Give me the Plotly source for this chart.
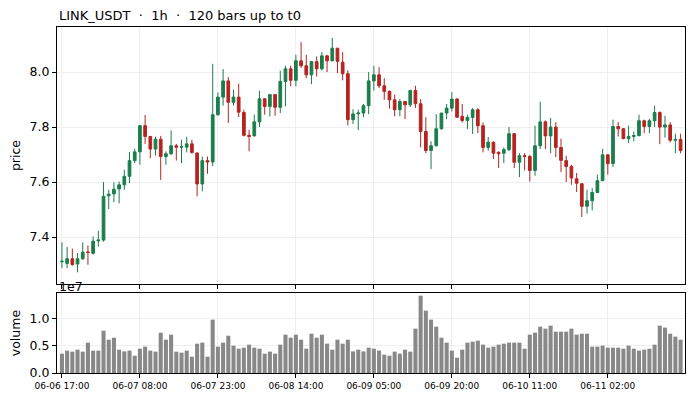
import numpy as np
import pandas as pd
import plotly.graph_objects as go

# 120 hourly bars
start = "2024-06-06 17:00"
n_bars = 120

opens = [7.310, 7.304, 7.321, 7.302, 7.321, 7.346, 7.341, 7.386, 7.389, 7.550,
         7.557, 7.575, 7.590, 7.621, 7.678, 7.710, 7.805, 7.766, 7.720, 7.756,
         7.693, 7.703, 7.732, 7.727, 7.727, 7.739, 7.706, 7.593, 7.678, 7.673,
         7.845, 7.909, 7.968, 7.890, 7.909, 7.853, 7.770, 7.768, 7.819, 7.903,
         7.875, 7.918, 7.872, 7.966, 8.012, 7.970, 8.041, 8.023, 7.990, 8.038,
         8.012, 8.059, 8.041, 8.087, 8.036, 7.994, 7.827, 7.848, 7.851, 7.878,
         7.968, 7.990, 7.950, 7.930, 7.899, 7.863, 7.893, 7.881, 7.933, 7.885,
         7.784, 7.715, 7.732, 7.794, 7.851, 7.869, 7.902, 7.839, 7.824, 7.835,
         7.863, 7.805, 7.726, 7.745, 7.708, 7.705, 7.718, 7.776, 7.672, 7.696,
         7.693, 7.642, 7.732, 7.819, 7.768, 7.800, 7.726, 7.678, 7.657, 7.612,
         7.594, 7.512, 7.532, 7.562, 7.605, 7.699, 7.667, 7.802, 7.794, 7.758,
         7.766, 7.769, 7.823, 7.802, 7.823, 7.853, 7.800, 7.808, 7.752, 7.755]

highs = [7.381, 7.364, 7.358, 7.342, 7.381, 7.370, 7.402, 7.423, 7.600, 7.572,
         7.599, 7.602, 7.645, 7.709, 7.721, 7.808, 7.844, 7.766, 7.765, 7.768,
         7.712, 7.788, 7.739, 7.754, 7.765, 7.754, 7.705, 7.693, 7.693, 8.030,
         7.926, 8.011, 7.982, 7.936, 7.958, 7.863, 7.790, 7.845, 7.932, 7.905,
         7.921, 7.921, 8.005, 8.023, 8.023, 8.063, 8.109, 8.063, 8.040, 8.057,
         8.073, 8.063, 8.124, 8.087, 8.073, 8.006, 7.865, 7.863, 7.884, 8.000,
         8.023, 8.018, 7.978, 7.933, 7.918, 7.902, 7.893, 7.936, 7.950, 7.902,
         7.836, 7.748, 7.847, 7.851, 7.884, 7.927, 7.905, 7.884, 7.845, 7.869,
         7.869, 7.817, 7.764, 7.748, 7.712, 7.726, 7.800, 7.778, 7.705, 7.705,
         7.699, 7.805, 7.892, 7.824, 7.833, 7.818, 7.758, 7.696, 7.663, 7.633,
         7.594, 7.572, 7.578, 7.627, 7.721, 7.702, 7.827, 7.818, 7.796, 7.805,
         7.784, 7.845, 7.827, 7.830, 7.878, 7.857, 7.841, 7.818, 7.776, 7.776]

lows = [7.287, 7.287, 7.296, 7.272, 7.317, 7.299, 7.336, 7.366, 7.383, 7.502,
        7.527, 7.523, 7.572, 7.596, 7.669, 7.663, 7.739, 7.687, 7.696, 7.608,
        7.663, 7.699, 7.678, 7.669, 7.708, 7.703, 7.548, 7.566, 7.630, 7.658,
        7.841, 7.878, 7.815, 7.878, 7.836, 7.766, 7.712, 7.766, 7.800, 7.845,
        7.839, 7.841, 7.851, 7.875, 7.948, 7.948, 8.015, 7.978, 7.956, 7.984,
        8.006, 8.000, 8.039, 7.996, 7.970, 7.806, 7.811, 7.789, 7.836, 7.847,
        7.933, 7.942, 7.899, 7.867, 7.839, 7.839, 7.829, 7.873, 7.869, 7.726,
        7.705, 7.647, 7.730, 7.790, 7.829, 7.857, 7.834, 7.817, 7.793, 7.775,
        7.778, 7.708, 7.714, 7.684, 7.651, 7.669, 7.712, 7.651, 7.618, 7.642,
        7.602, 7.623, 7.720, 7.720, 7.705, 7.691, 7.636, 7.600, 7.590, 7.564,
        7.473, 7.485, 7.497, 7.560, 7.605, 7.627, 7.655, 7.766, 7.756, 7.742,
        7.748, 7.766, 7.778, 7.778, 7.800, 7.738, 7.762, 7.744, 7.705, 7.705]

closes = [7.312, 7.321, 7.300, 7.321, 7.345, 7.344, 7.385, 7.389, 7.548, 7.556,
          7.574, 7.590, 7.621, 7.678, 7.710, 7.805, 7.766, 7.720, 7.756, 7.693,
          7.703, 7.732, 7.727, 7.729, 7.739, 7.708, 7.593, 7.678, 7.673, 7.845,
          7.909, 7.968, 7.890, 7.909, 7.854, 7.770, 7.766, 7.819, 7.903, 7.875,
          7.918, 7.872, 7.966, 8.012, 7.970, 8.041, 8.023, 7.990, 8.038, 8.012,
          8.059, 8.041, 8.087, 8.039, 7.994, 7.827, 7.848, 7.851, 7.878, 7.968,
          7.990, 7.950, 7.930, 7.899, 7.863, 7.893, 7.881, 7.933, 7.885, 7.784,
          7.715, 7.732, 7.794, 7.851, 7.869, 7.902, 7.836, 7.824, 7.835, 7.863,
          7.805, 7.726, 7.745, 7.705, 7.703, 7.718, 7.776, 7.672, 7.696, 7.693,
          7.642, 7.732, 7.819, 7.768, 7.800, 7.726, 7.679, 7.657, 7.615, 7.596,
          7.512, 7.532, 7.562, 7.605, 7.699, 7.667, 7.802, 7.794, 7.758, 7.766,
          7.769, 7.823, 7.802, 7.823, 7.853, 7.800, 7.808, 7.752, 7.755, 7.715]

# volume in units of 1e7
volume_1e7 = [0.358, 0.414, 0.395, 0.432, 0.395, 0.562, 0.414, 0.414, 0.784, 0.617,
              0.654, 0.432, 0.400, 0.414, 0.320, 0.450, 0.488, 0.414, 0.395, 0.747,
              0.617, 0.710, 0.395, 0.377, 0.414, 0.302, 0.543, 0.562, 0.302, 0.988,
              0.488, 0.562, 0.691, 0.506, 0.450, 0.469, 0.525, 0.469, 0.450, 0.358,
              0.395, 0.358, 0.525, 0.710, 0.654, 0.710, 0.617, 0.450, 0.728, 0.654,
              0.710, 0.543, 0.432, 0.617, 0.543, 0.617, 0.400, 0.432, 0.400, 0.469,
              0.450, 0.414, 0.340, 0.320, 0.395, 0.358, 0.432, 0.395, 0.821, 1.432,
              1.154, 0.988, 0.858, 0.654, 0.562, 0.414, 0.284, 0.432, 0.562, 0.580,
              0.599, 0.525, 0.469, 0.488, 0.525, 0.543, 0.562, 0.562, 0.562, 0.450,
              0.710, 0.747, 0.858, 0.821, 0.877, 0.765, 0.765, 0.765, 0.821, 0.710,
              0.728, 0.728, 0.488, 0.488, 0.506, 0.469, 0.469, 0.469, 0.450, 0.506,
              0.450, 0.414, 0.432, 0.450, 0.525, 0.877, 0.840, 0.728, 0.673, 0.617]

price_ticks = [7.4, 7.6, 7.8, 8.0]
vol_ticks = [0.0, 0.5, 1.0]

GREEN = "#1b7d4c"
RED = "#b42420"
FONT = "DejaVu Sans"

times = pd.date_range(start, periods=n_bars, freq="h")
hour = pd.Timedelta(hours=1)

fig = go.Figure()

fig.add_trace(go.Candlestick(
    x=times, open=opens, high=highs, low=lows, close=closes,
    increasing=dict(line=dict(color=GREEN, width=1), fillcolor=GREEN),
    decreasing=dict(line=dict(color=RED, width=1), fillcolor=RED),
    whiskerwidth=0, xaxis="x", yaxis="y", showlegend=False,
))

fig.add_trace(go.Bar(
    x=times, y=np.array(volume_1e7) * 1e7,
    marker=dict(color="#888888", line=dict(width=0)),
    width=0.78 * 3600 * 1000,
    xaxis="x2", yaxis="y2", showlegend=False,
))

axis_common = dict(
    showline=True, linecolor="black", linewidth=1.2, mirror=True,
    ticks="outside", ticklen=4, tickcolor="black",
    showgrid=True, gridcolor="#efefef", gridwidth=0.8,
    zeroline=False,
)

xrange = [times[0] - 0.95 * hour, times[-1] + 0.85 * hour]

fig.update_layout(
    width=693, height=400,
    margin=dict(l=57, r=8, t=27, b=27),
    paper_bgcolor="white", plot_bgcolor="white",
    font=dict(family=FONT, color="black", size=12),
    boxgap=0.28, boxgroupgap=0.28,
    xaxis=dict(
        **axis_common, domain=[0, 1], anchor="y", matches="x2",
        showticklabels=False, rangeslider=dict(visible=False),
        type="date", tick0=times[0], dtick=15 * 3600 * 1000, range=xrange,
    ),
    yaxis=dict(
        **axis_common, domain=[0.257, 1], anchor="x",
        range=[7.229, 8.164], tickvals=price_ticks,
        ticktext=[f"{v:.1f}" for v in price_ticks],
        tickfont=dict(size=12.5),
        title=dict(text="price", font=dict(size=12.5), standoff=6),
    ),
    xaxis2=dict(
        **axis_common, domain=[0, 1], anchor="y2",
        type="date", tick0=times[0], dtick=15 * 3600 * 1000, range=xrange,
        tickformat="%m-%d %H:%M", tickfont=dict(size=9),
    ),
    yaxis2=dict(
        **axis_common, domain=[0, 0.231], anchor="x2",
        range=[0, 1.48e7], tickvals=[v * 1e7 for v in vol_ticks],
        ticktext=[f"{v:.1f}" for v in vol_ticks],
        tickfont=dict(size=12.5),
        title=dict(text="volume", font=dict(size=12.5), standoff=6),
    ),
)

fig.add_annotation(
    text="LINK_USDT\u00a0 · \u00a01h\u00a0 · \u00a0120 bars up to t0",
    xref="paper", yref="paper", x=0, y=1, xanchor="left", yanchor="bottom",
    yshift=2, showarrow=False, font=dict(size=13),
)
fig.add_annotation(
    text="1e7", xref="paper", yref="y2 domain", x=0, y=1,
    xanchor="left", yanchor="bottom", yshift=-3, showarrow=False,
    font=dict(size=12.5),
)

# drop the browser's default 8px page margin so the figure sits at 0,0
fig.write_html("out.html", config={"displayModeBar": False},
               post_script="document.body.style.margin='0';")
